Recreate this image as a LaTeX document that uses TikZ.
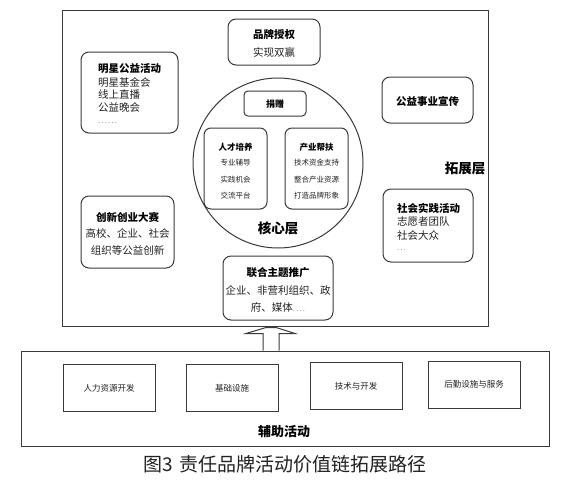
\documentclass[tikz,border=0pt]{standalone}
\usepackage{fontspec}
\setmainfont{Noto Sans CJK SC}
\usetikzlibrary{calc}
\definecolor{lc}{HTML}{3A3A3A}
\definecolor{tc}{HTML}{222222}
\definecolor{dc}{HTML}{888888}
\begin{document}
\begin{tikzpicture}[x=1pt,y=-1pt,
  line/.style={draw=lc,line width=1pt},
  rbox/.style={line,rounded corners=8pt,inner sep=0pt},
  sbox/.style={line,inner sep=0pt},
  txt/.style={font=\fontsize{10.5}{12}\selectfont,inner sep=0pt,text=tc},
  btxt/.style={font=\bfseries\fontsize{10.5}{12}\selectfont,inner sep=0pt,text=black},
  small/.style={font=\fontsize{7.5}{9}\selectfont,inner sep=0pt,text=tc},
  bsmall/.style={font=\bfseries\fontsize{8.5}{10}\selectfont,inner sep=0pt,text=black},
  big/.style={font=\bfseries\fontsize{13.5}{15}\selectfont,inner sep=0pt,text=black},
  dots/.style={font=\fontsize{7.5}{8}\selectfont,inner sep=0pt,text=dc},
  auxtxt/.style={font=\fontsize{8.5}{10}\selectfont,inner sep=0pt,text=tc},
]
\useasboundingbox[fill=white] (0,0) rectangle (572,479);

% outer extension layer
\node[sbox,minimum width=426pt,minimum height=316pt] (ext) at (275,168) {};
\node[big] (extlbl) at (465,168) {拓展层};

% core circle
\node[circle,line,minimum size=170pt,inner sep=0pt] (core) at (278,163) {};
\node[big] (corelbl) at (278,228) {核心层};

\node[rbox,rounded corners=4pt,minimum width=62pt,minimum height=25pt] (don) at (275,103.5) {};
\node[bsmall,font=\bfseries\fontsize{9}{10}\selectfont] (dontxt) at (275,104) {捐赠};

\node[rbox,rounded corners=7pt,minimum width=63pt,minimum height=81pt] (talent) at (235.5,168.5) {};
\node[bsmall] (t0) at (235.5,147) {人才培养};
\node[small] (t1) at (235.5,163) {专业辅导};
\node[small] (t2) at (235.5,179.5) {实践机会};
\node[small] (t3) at (235.5,196) {交流平台};

\node[rbox,rounded corners=7pt,minimum width=63pt,minimum height=81pt] (ind) at (316.5,168.5) {};
\node[bsmall] (i0) at (316.5,147) {产业帮扶};
\node[small] (i1) at (316.5,163) {技术资金支持};
\node[small] (i2) at (316.5,179.5) {整合产业资源};
\node[small] (i3) at (316.5,196) {打造品牌形象};

% brand licensing
\node[rbox,minimum width=92pt,minimum height=46pt] (brand) at (274,42) {};
\node[btxt] (b0) at (274,35) {品牌授权};
\node[txt] (b1) at (274,52) {实现双赢};

% star charity
\node[rbox,minimum width=97pt,minimum height=81pt] (star) at (129.5,92.5) {};
\node[btxt,anchor=west] (s0) at (98,69) {明星公益活动};
\node[txt,anchor=west] (s1) at (98,82) {明星基金会};
\node[txt,anchor=west] (s2) at (98,95) {线上直播};
\node[txt,anchor=west] (s3) at (98,108) {公益晚会};
\node[dots,anchor=west] (s4) at (98,123) {.\,.\,.\,.\,.\,.};

% public welfare promotion
\node[rbox,minimum width=91pt,minimum height=46pt] (promo) at (427.5,100) {};
\node[btxt] (p0) at (427.5,101) {公益事业宣传};

% innovation contest
\node[rbox,minimum width=93pt,minimum height=72pt] (innov) at (127.5,232) {};
\node[btxt] (n0) at (127.5,217) {创新创业大赛};
\node[txt] (n1) at (127.5,233.5) {高校、企业、社会};
\node[txt] (n2) at (127.5,250) {组织等公益创新};

% social practice
\node[rbox,minimum width=90pt,minimum height=73pt] (social) at (428,225.5) {};
\node[btxt,anchor=west] (c0) at (397,208) {社会实践活动};
\node[txt,anchor=west] (c1) at (397,222) {志愿者团队};
\node[txt,anchor=west] (c2) at (397,235.5) {社会大众};
\node[dots,anchor=west] (c3) at (397,250) {.\,.\,.};

% joint theme promotion
\node[rbox,minimum width=110pt,minimum height=64pt] (joint) at (278,288) {};
\node[btxt] (j0) at (278,273) {联合主题推广};
\node[txt] (j1) at (278,290) {企业、非营利组织、政};
\node[txt] (j2) at (278,307) {府、媒体{\color{dc}\fontsize{7.5}{8}\selectfont.\,.\,.\,.}};

% support activities
\node[sbox,minimum width=528pt,minimum height=95pt] (aux) at (285,398.5) {};
\node[sbox,minimum width=92pt,minimum height=47pt] (hr) at (109,387.5) {};
\node[auxtxt] (hrt) at (109,388) {人力资源开发};
\node[sbox,minimum width=92pt,minimum height=47pt] (infra) at (232,387.5) {};
\node[auxtxt] (infrat) at (232,388) {基础设施};
\node[sbox,minimum width=92pt,minimum height=47pt] (tech) at (356,385.5) {};
\node[auxtxt] (techt) at (356,386) {技术与开发};
\node[sbox,minimum width=92pt,minimum height=47pt] (log) at (474,384.5) {};
\node[auxtxt] (logt) at (474,384.5) {后勤设施与服务};
\node[big,font=\bfseries\fontsize{13}{15}\selectfont] (auxlbl) at (284,432) {辅助活动};

% hollow block arrow from support box up to extension layer
\coordinate (abase) at (aux.north -| 271,0);
\coordinate (atip) at (ext.south -| 271,0);
\draw[line,line join=miter,fill=white]
  ($(abase)+(-8,0)$) -- ($(atip)+(-8,7)$) -- ($(atip)+(-25,7)$) -- ($(atip)+(-5,1)$)
  -- ($(atip)+(5,1)$) -- ($(atip)+(24,7)$) -- ($(atip)+(8,7)$) -- ($(abase)+(8,0)$);

% caption
\node[font=\fontsize{19}{21}\selectfont,inner sep=0pt,text=tc] (cap) at (285,464) {图3\,\,责任品牌活动价值链拓展路径};
\end{tikzpicture}
\end{document}
